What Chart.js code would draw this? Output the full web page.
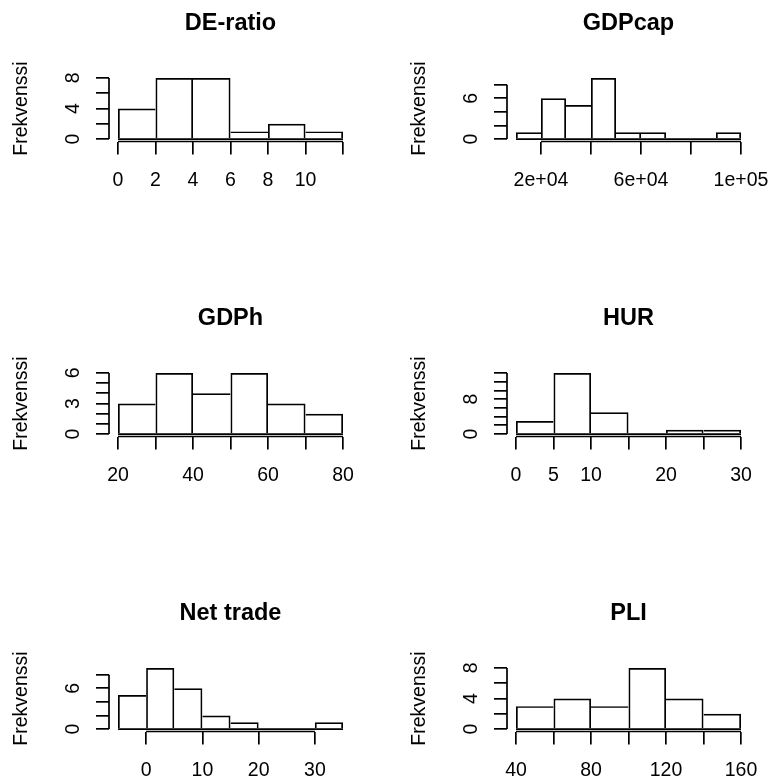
<!DOCTYPE html>
<html>
<head>
<meta charset="utf-8">
<title>Histogrammit</title>
<script src="https://cdn.jsdelivr.net/npm/chart.js@4.4.1/dist/chart.umd.min.js"></script>
<style>
  html, body { margin: 0; padding: 0; background: #fff; }
  #grid { position: relative; width: 769px; height: 776px; overflow: hidden; background: #fff; }
  #grid canvas { position: absolute; }
</style>
</head>
<body>
<div id="grid"></div>
<script>
// bin breaks, counts and axis ticks for each variable
const deBreaks = [0, 2, 4, 6, 8, 10, 12];
const deCounts = [4, 8, 8, 1, 2, 1];
const deXTicks = [0, 2, 4, 6, 8, 10, 12];
const deXLabels = ['0', '2', '4', '6', '8', '10', ''];
const deYTicks = [0, 2, 4, 6, 8];
const deYLabels = ['0', '', '4', '', '8'];

const gdpcapBreaks = [10000, 20000, 30000, 40000, 50000, 60000, 70000, 80000, 90000, 100000];
const gdpcapCounts = [1, 6, 5, 9, 1, 1, 0, 0, 1];
const gdpcapXTicks = [20000, 40000, 60000, 80000, 100000];
const gdpcapXLabels = ['2e+04', '', '6e+04', '', '1e+05'];
const gdpcapYTicks = [0, 2, 4, 6, 8];
const gdpcapYLabels = ['0', '', '', '6', ''];

const gdphBreaks = [20, 30, 40, 50, 60, 70, 80];
const gdphCounts = [3, 6, 4, 6, 3, 2];
const gdphXTicks = [20, 30, 40, 50, 60, 70, 80];
const gdphXLabels = ['20', '', '40', '', '60', '', '80'];
const gdphYTicks = [0, 1, 2, 3, 4, 5, 6];
const gdphYLabels = ['0', '', '', '3', '', '', '6'];

const hurBreaks = [0, 5, 10, 15, 20, 25, 30];
const hurCounts = [3, 14, 5, 0, 1, 1];
const hurXTicks = [0, 5, 10, 15, 20, 25, 30];
const hurXLabels = ['0', '5', '10', '', '20', '', '30'];
const hurYTicks = [0, 2, 4, 6, 8, 10, 12, 14];
const hurYLabels = ['0', '', '', '', '8', '', '', ''];

const tradeBreaks = [-5, 0, 5, 10, 15, 20, 25, 30, 35];
const tradeCounts = [5, 9, 6, 2, 1, 0, 0, 1];
const tradeXTicks = [0, 10, 20, 30];
const tradeXLabels = ['0', '10', '20', '30'];
const tradeYTicks = [0, 2, 4, 6, 8];
const tradeYLabels = ['0', '', '', '6', ''];

const pliBreaks = [40, 60, 80, 100, 120, 140, 160];
const pliCounts = [3, 4, 3, 8, 4, 2];
const pliXTicks = [40, 60, 80, 100, 120, 140, 160];
const pliXLabels = ['40', '', '80', '', '120', '', '160'];
const pliYTicks = [0, 2, 4, 6, 8];
const pliYLabels = ['0', '', '4', '', '8'];

const PANEL_W = 398;
const PANEL_H = 295;
const AREA_LEFT = 109;
const AREA_RIGHT = 352;
const AREA_TOP = 75.5;
const AREA_BOTTOM = 141.5;
const INK = '#000';
const LW = 1.7;
const AXIS_FONT = 19.5;
const TITLE_FONT = 23.5;

Chart.defaults.font.family = "'Liberation Sans', Arial, Helvetica, sans-serif";
Chart.defaults.color = INK;

// axis lines run from the first to the last tick only
const axisLines = {
  id: 'axisLines',
  afterDraw(chart) {
    const { ctx } = chart;
    const x = chart.scales.x;
    const y = chart.scales.y;
    ctx.save();
    ctx.strokeStyle = INK;
    ctx.lineWidth = LW;
    ctx.beginPath();
    ctx.moveTo(x.getPixelForValue(x.ticks[0].value), x.top);
    ctx.lineTo(x.getPixelForValue(x.ticks[x.ticks.length - 1].value), x.top);
    ctx.moveTo(y.right, y.getPixelForValue(y.ticks[0].value));
    ctx.lineTo(y.right, y.getPixelForValue(y.ticks[y.ticks.length - 1].value));
    ctx.stroke();
    ctx.restore();
  }
};

// a shared edge between two bins is drawn once, by the taller bar
function edgeWidths(counts) {
  return counts.map((c, i) => ({
    top: LW,
    bottom: 0,
    left: (i === 0 || c > counts[i - 1]) ? LW : 0,
    right: (i === counts.length - 1 || c >= counts[i + 1]) ? LW : 0
  }));
}

function tickAxis(ticks, labels, extra) {
  return Object.assign({
    type: 'linear',
    offset: false,
    border: { display: false },
    grid: {
      display: true,
      drawOnChartArea: false,
      drawTicks: true,
      tickLength: 13,
      color: INK,
      lineWidth: LW,
      offset: false
    },
    afterBuildTicks: s => { s.ticks = ticks.map(v => ({ value: v })); }
  }, extra, {
    ticks: Object.assign({
      autoSkip: false,
      color: INK,
      font: { size: AXIS_FONT },
      callback: (v, i) => labels[i]
    }, extra.ticks)
  });
}

function makeHist(slot, title, breaks, counts, xTicks, xLabels, yTicks, yLabels) {
  const canvas = document.createElement('canvas');
  canvas.width = PANEL_W;
  canvas.height = PANEL_H;
  canvas.style.width = PANEL_W + 'px';
  canvas.style.height = PANEL_H + 'px';
  canvas.style.left = (slot % 2) * PANEL_W + 'px';
  canvas.style.top = Math.floor(slot / 2) * PANEL_H + 'px';
  document.getElementById('grid').appendChild(canvas);

  const lo = breaks[0];
  const hi = breaks[breaks.length - 1];
  const xPad = 0.04 * (hi - lo);
  const yMax = Math.max(...counts);
  const edges = edgeWidths(counts);
  const titleTop = 24 - TITLE_FONT * 0.6;

  return new Chart(canvas.getContext('2d'), {
    type: 'bar',
    data: {
      datasets: [
        {
          type: 'bar',
          data: counts.map((c, i) => ({ x: (breaks[i] + breaks[i + 1]) / 2, y: c })),
          backgroundColor: 'rgba(0,0,0,0)',
          borderColor: INK,
          borderWidth: ctx => edges[ctx.dataIndex],
          borderSkipped: false,
          barPercentage: 1,
          categoryPercentage: 1,
          inflateAmount: 0
        },
        {
          type: 'line',
          data: [{ x: lo, y: 0 }, { x: hi, y: 0 }],
          borderColor: INK,
          borderWidth: LW,
          pointRadius: 0,
          pointHoverRadius: 0,
          fill: false
        }
      ]
    },
    options: {
      responsive: false,
      animation: false,
      devicePixelRatio: 1,
      events: [],
      layout: { padding: { left: 0, top: 0, right: PANEL_W - AREA_RIGHT, bottom: 0 } },
      plugins: {
        legend: { display: false },
        tooltip: { enabled: false },
        title: {
          display: true,
          text: title,
          color: INK,
          fullSize: false,
          font: { size: TITLE_FONT, weight: 'bold' },
          padding: { top: titleTop, bottom: AREA_TOP - titleTop - TITLE_FONT * 1.2 }
        }
      },
      scales: {
        x: tickAxis(xTicks, xLabels, {
          min: lo - xPad,
          max: hi + xPad,
          ticks: { maxRotation: 0, minRotation: 0, padding: 14 },
          afterFit: s => { s.height = PANEL_H - AREA_BOTTOM; }
        }),
        y: tickAxis(yTicks, yLabels, {
          min: -0.04 * yMax,
          max: 1.04 * yMax,
          ticks: { minRotation: 90, maxRotation: 90, crossAlign: 'center', padding: 16.5 },
          title: {
            display: true,
            text: 'Frekvenssi',
            color: INK,
            font: { size: AXIS_FONT },
            padding: { top: 9.8, bottom: 0 }
          },
          afterFit: s => { s.width = AREA_LEFT; }
        })
      }
    },
    plugins: [axisLines]
  });
}

makeHist(0, 'DE-ratio', deBreaks, deCounts, deXTicks, deXLabels, deYTicks, deYLabels);
makeHist(1, 'GDPcap', gdpcapBreaks, gdpcapCounts, gdpcapXTicks, gdpcapXLabels, gdpcapYTicks, gdpcapYLabels);
makeHist(2, 'GDPh', gdphBreaks, gdphCounts, gdphXTicks, gdphXLabels, gdphYTicks, gdphYLabels);
makeHist(3, 'HUR', hurBreaks, hurCounts, hurXTicks, hurXLabels, hurYTicks, hurYLabels);
makeHist(4, 'Net trade', tradeBreaks, tradeCounts, tradeXTicks, tradeXLabels, tradeYTicks, tradeYLabels);
makeHist(5, 'PLI', pliBreaks, pliCounts, pliXTicks, pliXLabels, pliYTicks, pliYLabels);
</script>
</body>
</html>
